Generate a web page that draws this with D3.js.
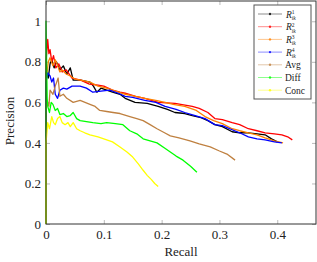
<!DOCTYPE html>
<html>
<head>
<meta charset="utf-8">
<script src="https://cdn.jsdelivr.net/npm/d3@7"></script>
<style>
  body { margin: 0; background: #fff; }
  svg { display: block; font-family: "Liberation Serif", "DejaVu Serif", serif; }
</style>
</head>
<body>
<svg id="chart" width="317" height="262"></svg>
<script>
// [recall, precision] pairs
const r1 = [[0,0],[0,0.75],[0.004,0.72],[0.007,0.79],[0.01,0.81],[0.014,0.77],[0.018,0.8],[0.024,0.76],[0.03,0.78],[0.036,0.74],[0.042,0.77],[0.047,0.71],[0.06,0.71],[0.076,0.7],[0.082,0.68],[0.088,0.65],[0.095,0.67],[0.105,0.66],[0.115,0.65],[0.128,0.64],[0.137,0.62],[0.154,0.6],[0.175,0.595],[0.194,0.58],[0.21,0.565],[0.223,0.55],[0.24,0.545],[0.253,0.535],[0.268,0.525],[0.28,0.51],[0.292,0.49],[0.305,0.48],[0.322,0.455],[0.335,0.45],[0.35,0.45],[0.365,0.445],[0.379,0.44],[0.39,0.42],[0.40,0.405]];
const r2 = [[0,0],[0,0.8],[0.003,0.91],[0.005,0.84],[0.007,0.86],[0.01,0.8],[0.013,0.83],[0.017,0.77],[0.022,0.79],[0.028,0.75],[0.035,0.76],[0.045,0.72],[0.06,0.71],[0.075,0.69],[0.09,0.685],[0.1,0.68],[0.115,0.66],[0.128,0.65],[0.137,0.645],[0.155,0.63],[0.171,0.62],[0.194,0.60],[0.223,0.595],[0.253,0.58],[0.265,0.57],[0.28,0.55],[0.292,0.52],[0.305,0.515],[0.322,0.50],[0.335,0.49],[0.35,0.47],[0.365,0.46],[0.379,0.45],[0.395,0.445],[0.408,0.44],[0.418,0.43],[0.426,0.415]];
const r3 = [[0,0],[0,0.7],[0.004,0.8],[0.007,0.82],[0.012,0.78],[0.016,0.81],[0.019,0.79],[0.024,0.75],[0.028,0.76],[0.035,0.74],[0.042,0.73],[0.05,0.715],[0.06,0.71],[0.076,0.70],[0.09,0.68],[0.105,0.67],[0.12,0.655],[0.137,0.64],[0.155,0.63],[0.171,0.62],[0.19,0.61],[0.206,0.60],[0.22,0.59],[0.24,0.58],[0.26,0.56],[0.275,0.53],[0.29,0.51],[0.305,0.495],[0.322,0.47],[0.335,0.46],[0.35,0.45],[0.365,0.44],[0.379,0.425],[0.395,0.41],[0.41,0.40]];
const r4 = [[0,0],[0,0.7],[0.003,0.745],[0.007,0.73],[0.01,0.7],[0.013,0.72],[0.016,0.64],[0.02,0.62],[0.024,0.66],[0.03,0.67],[0.036,0.665],[0.045,0.68],[0.059,0.68],[0.07,0.67],[0.081,0.65],[0.095,0.655],[0.11,0.66],[0.125,0.645],[0.137,0.63],[0.15,0.625],[0.171,0.61],[0.19,0.60],[0.206,0.58],[0.225,0.565],[0.24,0.55],[0.258,0.535],[0.275,0.52],[0.292,0.49],[0.305,0.485],[0.322,0.465],[0.335,0.45],[0.35,0.43],[0.365,0.42],[0.379,0.415],[0.395,0.405],[0.408,0.40]];
const avg = [[0,0],[0,0.55],[0.002,0.61],[0.005,0.58],[0.007,0.66],[0.012,0.64],[0.016,0.68],[0.021,0.72],[0.024,0.63],[0.03,0.64],[0.036,0.62],[0.047,0.60],[0.059,0.61],[0.076,0.59],[0.085,0.58],[0.093,0.56],[0.105,0.555],[0.116,0.55],[0.128,0.545],[0.145,0.53],[0.157,0.52],[0.168,0.51],[0.18,0.49],[0.192,0.47],[0.205,0.45],[0.215,0.435],[0.23,0.425],[0.249,0.41],[0.265,0.395],[0.284,0.38],[0.3,0.36],[0.313,0.345],[0.327,0.315]];
const diff = [[0,0],[0,1.0],[0.002,0.62],[0.003,0.58],[0.006,0.55],[0.009,0.6],[0.012,0.59],[0.016,0.56],[0.02,0.57],[0.024,0.54],[0.03,0.545],[0.036,0.53],[0.042,0.535],[0.047,0.55],[0.053,0.52],[0.059,0.51],[0.07,0.505],[0.081,0.50],[0.095,0.495],[0.105,0.50],[0.12,0.495],[0.133,0.49],[0.145,0.46],[0.157,0.445],[0.168,0.42],[0.18,0.41],[0.192,0.40],[0.205,0.375],[0.215,0.355],[0.225,0.335],[0.237,0.315],[0.25,0.285],[0.261,0.255]];
const conc = [[0,0],[0,0.4],[0.003,0.5],[0.006,0.47],[0.01,0.53],[0.013,0.5],[0.016,0.49],[0.02,0.52],[0.024,0.53],[0.028,0.5],[0.033,0.49],[0.038,0.5],[0.042,0.48],[0.047,0.50],[0.053,0.47],[0.059,0.46],[0.067,0.45],[0.076,0.44],[0.09,0.43],[0.1,0.42],[0.115,0.405],[0.128,0.38],[0.14,0.355],[0.15,0.33],[0.16,0.295],[0.168,0.265],[0.175,0.24],[0.182,0.22],[0.188,0.2],[0.194,0.185]];

const seriesNames = ["R1", "R2", "R3", "R4", "Avg", "Diff", "Conc"];
const seriesData = [r1, r2, r3, r4, avg, diff, conc];
const seriesColors = ["#000000", "#ff0000", "#ff8000", "#0000ff", "#bf8040", "#00ff00", "#ffff00"];

const xTicks = [0, 0.1, 0.2, 0.3, 0.4];
const yTicks = [0, 0.2, 0.4, 0.6, 0.8, 1];

const svg = d3.select("#chart");
const plotL = 46, plotR = 316, plotT = 1, plotB = 224;

const x = d3.scaleLinear().domain([0, 0.467]).range([plotL, plotR]);
const y = d3.scaleLinear().domain([0, 1.1]).range([plotB, plotT]);

// ticks, inward, on all four sides
const fmt = d3.format("");
svg.append("g").attr("transform", `translate(0,${plotB})`)
  .call(d3.axisBottom(x).tickValues(xTicks).tickFormat(fmt).tickSize(-4).tickPadding(6));
svg.append("g").attr("transform", `translate(0,${plotT})`)
  .call(d3.axisTop(x).tickValues(xTicks).tickFormat("").tickSize(-4));
svg.append("g").attr("transform", `translate(${plotL},0)`)
  .call(d3.axisLeft(y).tickValues(yTicks).tickFormat(fmt).tickSize(-4).tickPadding(5));
svg.append("g").attr("transform", `translate(${plotR},0)`)
  .call(d3.axisRight(y).tickValues(yTicks).tickFormat("").tickSize(-4));

svg.selectAll(".domain").remove();
svg.selectAll(".tick line").attr("stroke", "#bbb");
svg.selectAll(".tick text")
  .style("font-family", "'Liberation Serif', serif")
  .style("font-size", "13px")
  .attr("fill", "#222");

const line = d3.line().x(d => x(d[0])).y(d => y(d[1]));

seriesData.forEach((data, i) => {
  svg.append("path")
    .datum(data)
    .attr("fill", "none")
    .attr("stroke", seriesColors[i])
    .attr("stroke-width", 1.3)
    .attr("stroke-linejoin", "round")
    .attr("d", line);
});

svg.append("rect")
  .attr("x", plotL).attr("y", plotT)
  .attr("width", plotR - plotL).attr("height", plotB - plotT)
  .attr("fill", "none")
  .attr("stroke", "#333")
  .attr("stroke-width", 1);

svg.append("text")
  .attr("x", (plotL + plotR) / 2).attr("y", 256)
  .attr("text-anchor", "middle")
  .style("font-size", "13px")
  .attr("fill", "#222")
  .text("Recall");

svg.append("text")
  .attr("transform", "translate(14,121) rotate(-90)")
  .attr("text-anchor", "middle")
  .style("font-size", "13px")
  .attr("fill", "#222")
  .text("Precision");

// legend
const lg = svg.append("g");
lg.append("rect")
  .attr("x", 254).attr("y", 5).attr("width", 57).attr("height", 94)
  .attr("fill", "#fff").attr("stroke", "#555").attr("stroke-width", 1);

seriesNames.forEach((name, i) => {
  const cy = 14 + i * 12.7;
  lg.append("line")
    .attr("x1", 258).attr("x2", 282).attr("y1", cy).attr("y2", cy)
    .attr("stroke", seriesColors[i]).attr("stroke-opacity", 0.45).attr("stroke-width", 1);
  lg.append("circle")
    .attr("cx", 270).attr("cy", cy).attr("r", 1.2)
    .attr("fill", seriesColors[i]).attr("fill-opacity", 0.8);
  const t = lg.append("text").attr("y", cy + 3.5)
    .style("font-size", "9.5px").attr("fill", "#222");
  if (name[0] === "R") {
    t.attr("x", 286);
    t.append("tspan").style("font-style", "italic").text("R");
    t.append("tspan").attr("dy", -3.5).style("font-size", "5.5px").text(name.slice(1));
    t.append("tspan").attr("dx", -2.8).attr("dy", 6)
      .style("font-size", "5.5px").style("font-style", "italic").text("ik");
  } else {
    t.attr("x", 285).text(name);
  }
});
</script>
</body>
</html>
